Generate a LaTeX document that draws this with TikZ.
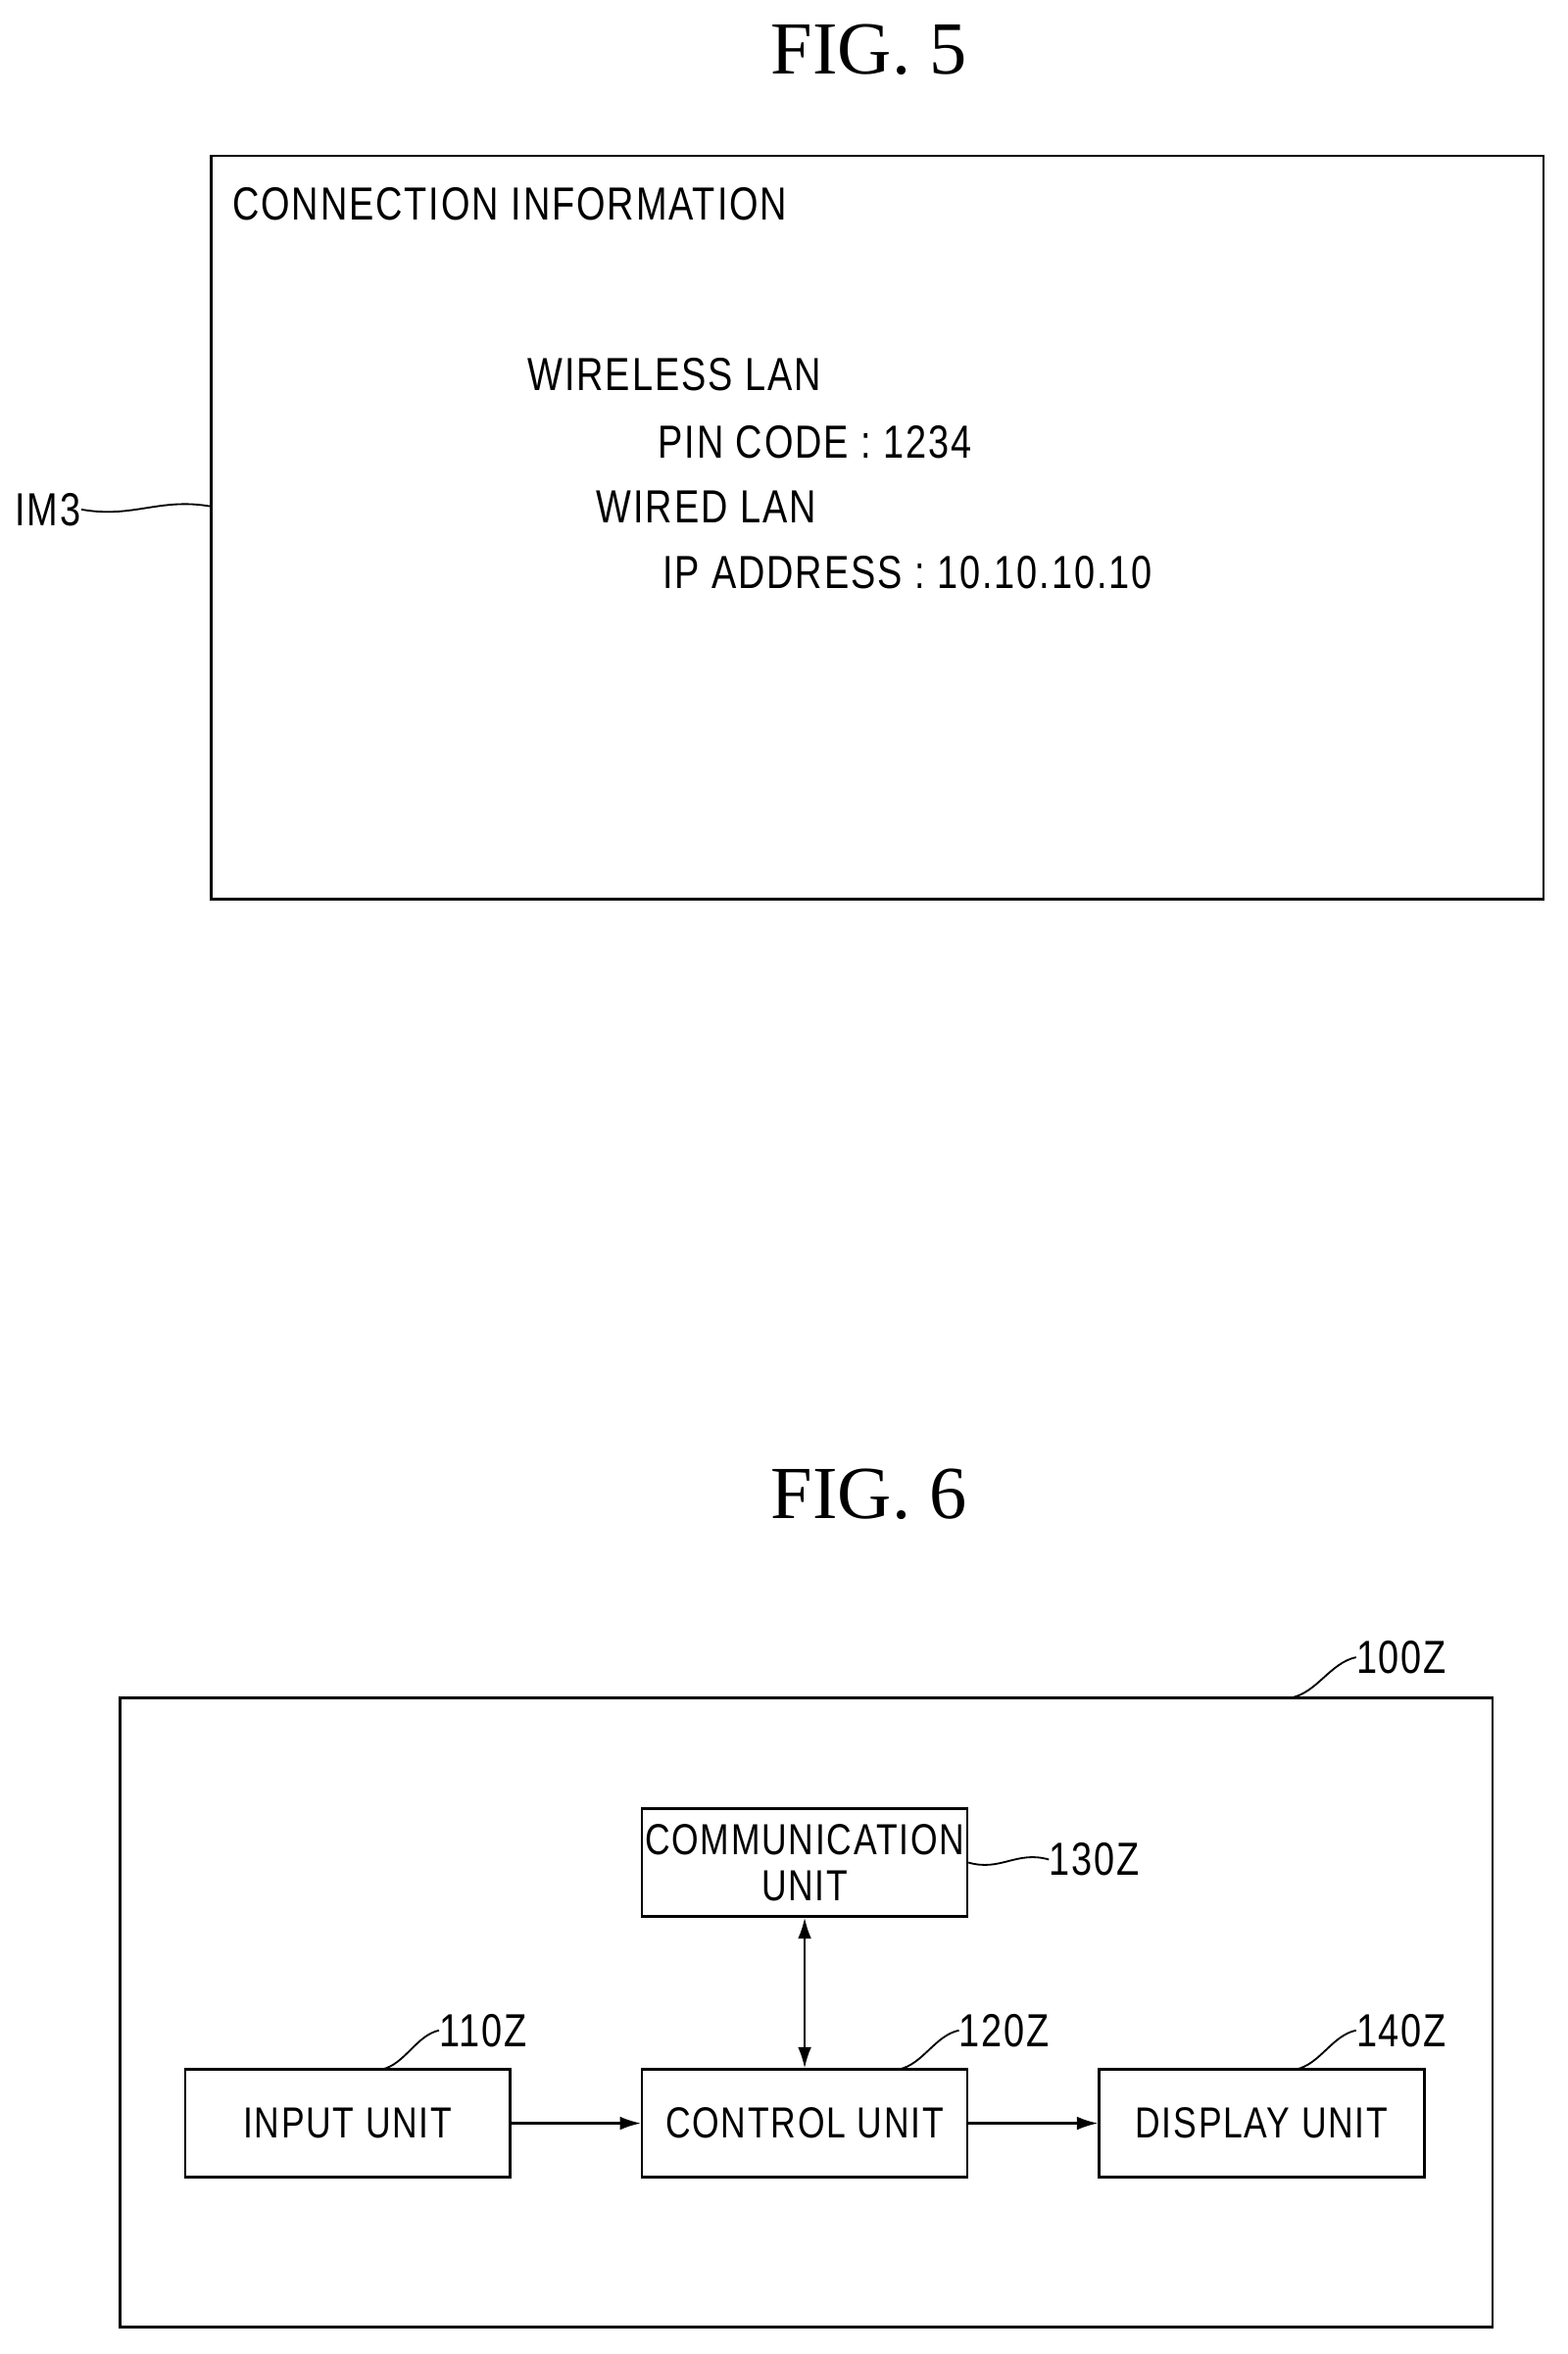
\documentclass[tikz,border=0pt]{standalone}
\usepackage{fontspec}
\setmainfont{Liberation Serif}
\newfontfamily\gfont[FakeStretch=0.8,LetterSpace=4]{Liberation Sans}
\usetikzlibrary{calc,arrows.meta}
\tikzset{
  lbl/.style={font=\gfont\fontsize{31}{35}\selectfont, inner sep=0pt},
  fig/.style={font=\fontsize{50}{56}\selectfont, inner sep=0pt},
  blk/.style={draw, line width=1.6pt, minimum width=217pt, minimum height=72pt, font=\gfont\fontsize{29}{31}\selectfont, align=center, inner sep=0pt},
  arr/.style={line width=1.4pt, -{Latex[length=14pt,width=9pt]}},
  lead/.style={line width=1.2pt}
}
\newcommand{\wave}[2]{\draw[lead] (#1) .. controls ($(#1)!0.4!(#2)+(0,7)$) and ($(#1)!0.6!(#2)+(0,-7)$) .. (#2);}
\begin{document}
\begin{tikzpicture}[x=1pt,y=-1pt]
\useasboundingbox (0,0) rectangle (1046,1571);
\node[fig] (f5) at (580,33) {FIG. 5};
\draw[line width=1.6pt] (141,104) rectangle (1030,600);
\coordinate (im3e) at (141,338);
\node[lbl,anchor=west] (t1) at (155,136) {CONNECTION INFORMATION};
\node[lbl,anchor=west] (t2) at (352,250) {WIRELESS LAN};
\node[lbl,anchor=west] (t3) at (439,295) {PIN CODE : 1234};
\node[lbl,anchor=west] (t4) at (398,338) {WIRED LAN};
\node[lbl,anchor=west] (t5) at (442,382) {IP ADDRESS : 10.10.10.10};
\node[lbl,anchor=west] (im3) at (10,340) {IM3};
\wave{im3.east}{im3e}

\node[fig] (f6) at (580,997) {FIG. 6};
\draw[line width=1.6pt] (80,1133) rectangle (996,1553);
\node[lbl,anchor=west] (l100) at (905,1106) {100Z};
\coordinate (c100) at (862,1133);
\wave{c100}{l100.west}
\node[blk] (comm) at (537,1243) {COMMUNICATION\\UNIT};
\node[blk] (inp) at (232,1417) {INPUT UNIT};
\node[blk] (ctl) at (537,1417) {CONTROL UNIT};
\node[blk] (dsp) at (842,1417) {DISPLAY UNIT};
\node[lbl,anchor=west] (l130) at (700,1241) {130Z};
\node[lbl,anchor=west] (l110) at (293,1355) {110Z};
\node[lbl,anchor=west] (l120) at (640,1355) {120Z};
\node[lbl,anchor=west] (l140) at (905,1355) {140Z};
\wave{comm.east}{l130.west}
\coordinate (c110) at (255,1381);
\coordinate (c120) at (600,1381);
\coordinate (c140) at (865,1381);
\wave{c110}{l110.west}
\wave{c120}{l120.west}
\wave{c140}{l140.west}
\draw[arr] (inp) -- (ctl);
\draw[arr] (ctl) -- (dsp);
\draw[arr,{Latex[length=14pt,width=9pt]}-{Latex[length=14pt,width=9pt]}] (ctl) -- (comm);
\end{tikzpicture}
\end{document}
